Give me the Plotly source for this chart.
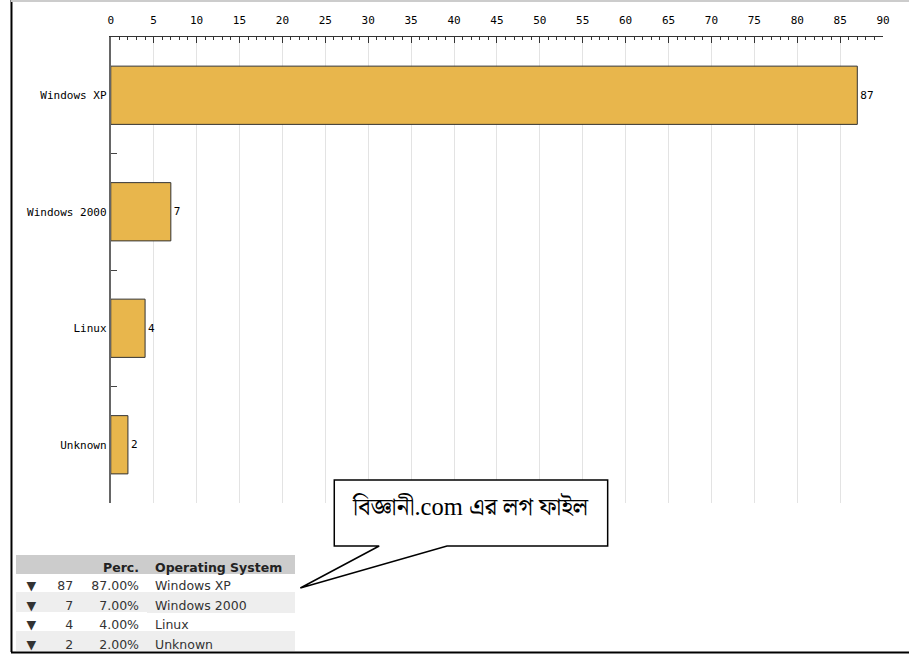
import plotly.graph_objects as go

categories = ["Windows XP", "Windows 2000", "Linux", "Unknown"]
values = [87, 7, 4, 2]
x_ticks = list(range(0, 91, 5))
callout_text = "বিজ্ঞানী.com এর লগ ফাইল"
header_labels = ["", "", "Perc.", "Operating\u00a0System"]

REF_W, H = 909, 656
FIG_W = 917
def px(x): return x / REF_W
def py(y): return 1 - y / H

total = sum(values)
percs = [f"{v / total * 100:.2f}%" for v in values]
arrows = ["▼"] * len(values)

mono = "DejaVu Sans Mono"

fig = go.Figure()
fig.add_trace(go.Bar(
    x=values, y=categories, orientation="h", width=0.5,
    marker=dict(color="#E8B64C", line=dict(color="#333333", width=1)),
    text=[str(v) for v in values], textposition="outside",
    textfont=dict(family=mono, size=11, color="#000"),
    cliponaxis=False, showlegend=False, hoverinfo="skip",
))

row_fill = ["#ffffff" if i % 2 == 0 else "#eeeeee" for i in range(len(values))]
fig.add_trace(go.Table(
    domain=dict(x=[px(13.5), px(292.5)], y=[py(652), py(555)]),
    columnwidth=[30, 35, 66, 148],
    header=dict(
        values=header_labels,
        fill_color="#cccccc", line=dict(width=1, color="#cccccc"),
        align=["center", "right", "right", "left"],
        font=dict(family="DejaVu Sans", size=12.5, color="#222", weight="bold"), height=18,
    ),
    cells=dict(
        values=[arrows, values, percs, categories],
        fill_color=[row_fill] * 4, line=dict(width=1, color=[row_fill] * 4),
        align=["center", "right", "right", "left"],
        font=dict(family="DejaVu Sans", size=12.5, color="#333"), height=19.5,
    ),
))

fig.update_layout(
    width=FIG_W, height=H, autosize=False,
    margin=dict(l=0, r=0, t=0, b=0),
    paper_bgcolor="white", plot_bgcolor="white",
    xaxis=dict(
        side="top", range=[0, 90], domain=[px(108), px(882)],
        tickvals=x_ticks, ticks="inside", ticklen=6, tickcolor="#333",
        showline=True, linecolor="#333", linewidth=1,
        showgrid=True, gridcolor="#e3e3e3", gridwidth=1, zeroline=False,
        tickfont=dict(family=mono, size=11, color="#000"), ticklabelstandoff=8,
        minor=dict(dtick=1, tick0=0, ticks="inside", ticklen=3, tickcolor="#333", showgrid=False),
        fixedrange=True,
    ),
    yaxis=dict(
        type="category", categoryorder="array", categoryarray=categories,
        autorange="reversed", domain=[1 - 503 / H, 1 - 37 / H],
        ticks="inside", tickson="boundaries", ticklen=6, tickcolor="#444",
        showline=True, linecolor="#666", linewidth=2, showgrid=False,
        tickfont=dict(family=mono, size=11, color="#000"),
        fixedrange=True,
    ),
    shapes=[
        dict(type="line", xref="paper", yref="paper", x0=px(8.5), x1=px(8.5), y0=py(0), y1=py(652),
             line=dict(color="#000", width=2)),
        dict(type="line", xref="paper", yref="paper", x0=px(8), x1=1, y0=py(652.5), y1=py(652.5),
             line=dict(color="#000", width=2)),
        dict(type="line", xref="paper", yref="paper", x0=px(8), x1=1, y0=py(1), y1=py(1),
             line=dict(color="#cccccc", width=2)),
        dict(type="path", xref="paper", yref="paper", layer="above",
             path=(f"M {px(332)} {py(480)} L {px(606)} {py(480)} L {px(606)} {py(546)} "
                   f"L {px(445)} {py(546)} L {px(298)} {py(588)} L {px(377)} {py(546)} "
                   f"L {px(332)} {py(546)} Z"),
             fillcolor="white", line=dict(color="#000", width=1.5)),
    ],
    annotations=[
        dict(xref="paper", yref="paper", x=px(469), y=py(506), text=callout_text,
             showarrow=False,
             font=dict(family="Liberation Serif, Noto Serif Bengali, Noto Sans Bengali", size=24.5, color="#000"),
             xanchor="center", yanchor="middle"),
    ],
)

fig.write_html(
    "out.html",
    config={"displayModeBar": False, "responsive": False},
    post_script="document.body.style.margin='0';document.body.style.overflow='hidden';",
)
